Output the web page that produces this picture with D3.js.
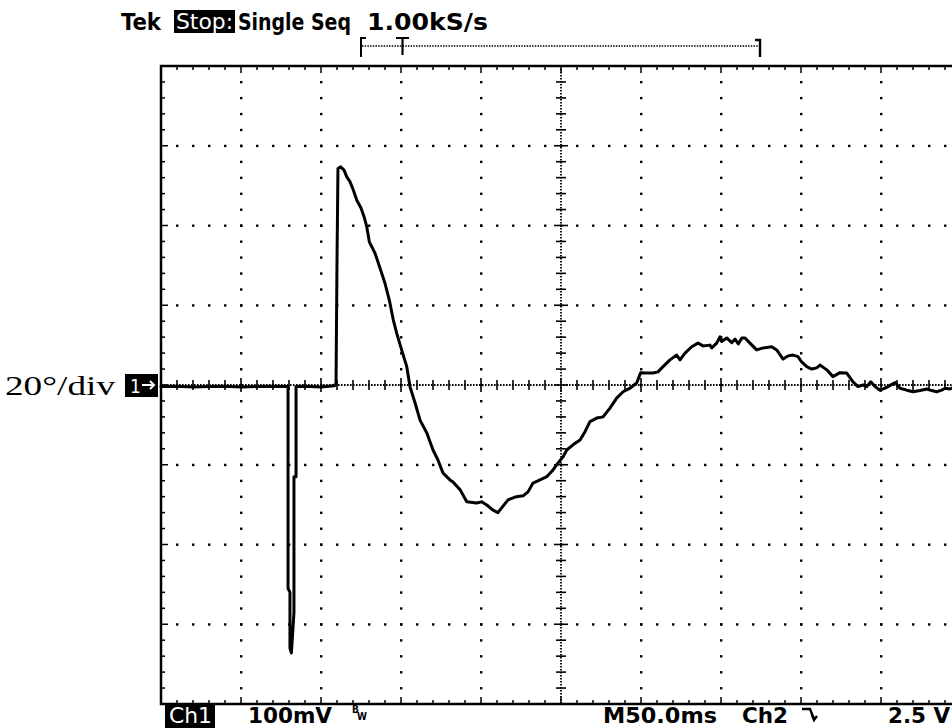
<!DOCTYPE html>
<html><head><meta charset="utf-8">
<script src="https://cdn.jsdelivr.net/npm/d3@7"></script>
<style>body{margin:0;background:#fff}svg{display:block}</style>
</head><body>
<script>
// ---- data (time in ms, angle in degrees) ----
const timeMs = [0,10,20,30,40,50,60,70,79.4,79.4,80.6,80.6,81.5,83.1,83.1,84.4,84.4,90,100,108.5,109.4,110,110.6,
112.3,114.4,116.1,118.1,120.2,122.3,125,126.9,128.6,130.2,133.8,136.9,140,142.7,145.2,147.3,150.4,153.6,155.6,158.8,161.9,166.1,170,173.1,176.3,180.6,182.5,187,191.1,197.3,200.4,203.6,207.5,210.6,212.9,216.9,221.3,226.3,229.4,232.5,236.9,241.1,245,248.1,251.3,253.6,257.5,261.9,265,268.1,272.3,276.3,280.6,284.8,288.8,293.1,297.3,299.8,303.6,307.5,310.6,313.8,318.1,322.3,324.4,327.5,331.7,335.6,338.8,343.1,344.2,347.3,349.4,350.4,353.6,356.7,358.8,360.8,363,365,368.1,372.3,376.4,381.7,384.8,388.8,391.9,395,398.1,400.4,403.6,406.7,409.8,411.9,416.1,420,424.4,428.6,432.5,435.6,438.8,441.1,443.6,446.3,449.4,452.5,454.4,458.8,461.9,466.1,470,474.4,478.6,481.7,484.8,487.9,490,493.1,496.9,500];
const angleDeg = [-0.4,-0.3,-0.5,-0.4,-0.3,-0.5,-0.4,-0.3,-0.4,-51,-52,-66,-67.2,-57,-23,-23,-0.4,-0.3,-0.5,-0.2,0.5,30.8,54.3,
54.7,53.9,52.2,51.0,48.9,46.4,44.4,42.2,39.7,35.9,33.0,29.3,25.5,21.3,16.3,13.0,8.8,4.6,-0.4,-4.5,-8.8,-12.0,-16.3,-18.8,-22.1,-23.8,-24.3,-26.3,-29.3,-29.6,-29.3,-30.1,-31.4,-32.0,-30.8,-28.8,-28.1,-27.8,-26.8,-24.6,-23.8,-23.0,-21.3,-19.6,-18.0,-16.3,-15.0,-13.8,-11.7,-9.2,-8.3,-8.0,-5.8,-3.3,-1.7,-0.8,0.5,3.1,3.0,3.0,3.3,4.6,6.3,7.5,6.3,8.0,9.6,10.5,9.8,10.0,9.3,10.5,12.1,10.9,11.8,10.6,11.5,10.3,11.8,11.8,10.5,8.8,9.3,9.6,8.8,6.5,7.3,7.5,7.1,5.8,4.6,4.0,4.3,5.0,3.8,2.1,3.1,3.0,0.8,-0.4,0,-0.4,0.8,-0.4,-1.3,-0.8,-0.4,0.6,-0.8,-1.3,-1.7,-1.4,-1.0,-1.4,-1.7,-1.3,-0.8,-1.0,-0.3,-0.5];
const xTickMs = d3.range(0, 501, 50);      // 50 ms / div
const yTickDeg = d3.range(-80, 81, 20);    // 20 deg / div
const headerLabels = ["Tek", "Stop:", "Single Seq", "1.00kS/s"];
const footerLabels = ["Ch1", "100mV", "M50.0ms", "Ch2", "2.5 V"];
const scaleLabel = "20°/div";

// ---- layout ----
const W = 952, H = 728;
const svg = d3.select("body").append("svg").attr("width", W).attr("height", H);
const x = d3.scaleLinear().domain([0, 500]).range([161, 961]);
const y = d3.scaleLinear().domain([-80, 80]).range([704, 66]);
const g = svg.append("g");

const xMinor = d3.range(0, 501, 10);
const yMinor = d3.range(-80, 81, 4);

// dotted major gridlines
xTickMs.filter(t => t > 0 && t < 500 && t !== 250).forEach(t => {
  g.selectAll(null).data(yMinor.filter(d => d > -80 && d < 80)).enter().append("rect")
    .attr("x", x(t) - 1).attr("y", d => y(d) - 1).attr("width", 2.4).attr("height", 2.4).attr("fill", "#000");
});
yTickDeg.filter(d => d > -80 && d < 80 && d !== 0).forEach(d => {
  g.selectAll(null).data(xMinor.filter(t => t > 0)).enter().append("rect")
    .attr("x", t => x(t) - 1).attr("y", y(d) - 1).attr("width", 2.4).attr("height", 2.4).attr("fill", "#000");
});

// center axes: dense dotted + cross ticks
g.append("line").attr("x1", x(0)).attr("x2", x(500)).attr("y1", y(0)).attr("y2", y(0))
  .attr("stroke", "#000").attr("stroke-width", 1.8).attr("stroke-dasharray", "1.6 1.4");
g.append("line").attr("x1", x(250)).attr("x2", x(250)).attr("y1", y(80)).attr("y2", y(-80))
  .attr("stroke", "#000").attr("stroke-width", 1.8).attr("stroke-dasharray", "1.6 1.4");
g.selectAll(null).data(xMinor.filter(t => t > 0 && t < 500)).enter().append("line")
  .attr("x1", t => x(t)).attr("x2", t => x(t))
  .attr("y1", t => y(0) - (t % 50 === 0 ? 7 : 5)).attr("y2", t => y(0) + (t % 50 === 0 ? 7 : 5))
  .attr("stroke", "#000").attr("stroke-width", 1.6);
g.selectAll(null).data(yMinor.filter(d => d > -80 && d < 80)).enter().append("line")
  .attr("y1", d => y(d)).attr("y2", d => y(d))
  .attr("x1", d => x(250) - (d % 20 === 0 ? 7 : 5)).attr("x2", d => x(250) + (d % 20 === 0 ? 7 : 5))
  .attr("stroke", "#000").attr("stroke-width", 1.6);

// frame edge ticks
g.selectAll(null).data(xMinor).enter().append("line")
  .attr("x1", t => x(t)).attr("x2", t => x(t))
  .attr("y1", y(80)).attr("y2", t => y(80) + (t % 50 === 0 ? 7 : 4))
  .attr("stroke", "#000").attr("stroke-width", 1.5);
g.selectAll(null).data(xMinor).enter().append("line")
  .attr("x1", t => x(t)).attr("x2", t => x(t))
  .attr("y1", y(-80)).attr("y2", t => y(-80) - (t % 50 === 0 ? 7 : 4))
  .attr("stroke", "#000").attr("stroke-width", 1.5);
g.selectAll(null).data(yMinor).enter().append("line")
  .attr("y1", d => y(d)).attr("y2", d => y(d))
  .attr("x1", x(0)).attr("x2", d => x(0) + (d % 20 === 0 ? 7 : 4))
  .attr("stroke", "#000").attr("stroke-width", 1.5);

// frame
g.append("path")
  .attr("d", `M${x(500)},${y(80)}H${x(0)}V${y(-80)}H${x(500)}`)
  .attr("fill", "none").attr("stroke", "#000").attr("stroke-width", 2.5);

// trace
const line = d3.line().x((d, i) => x(timeMs[i])).y(d => y(d));
g.append("path").datum(angleDeg).attr("d", line)
  .attr("fill", "none").attr("stroke", "#000").attr("stroke-width", 3)
  .attr("stroke-linejoin", "round").attr("stroke-linecap", "round");

// ---- texts ----
const tekFont = "'DejaVu Sans Condensed', 'DejaVu Sans', sans-serif";
function txt(s, x0, x1, yb, opts = {}) {
  return svg.append("text").text(s).attr("x", x0).attr("y", yb)
    .attr("font-family", opts.family || tekFont).attr("font-weight", opts.weight || "bold")
    .attr("font-size", opts.size || 23).attr("fill", opts.fill || "#000")
    .attr("textLength", x1 - x0).attr("lengthAdjust", "spacingAndGlyphs");
}
// header
txt(headerLabels[0], 121, 161, 30);
svg.append("rect").attr("x", 174).attr("y", 10).attr("width", 61).attr("height", 23).attr("fill", "#000");
txt(headerLabels[1], 176, 233, 29, {fill: "#fff", weight: "normal", size: 21});
txt(headerLabels[2], 238, 351, 30);
txt(headerLabels[3], 367, 488, 30);

// record/trigger bracket
svg.append("line").attr("x1", 362).attr("x2", 759).attr("y1", 46).attr("y2", 46)
  .attr("stroke", "#000").attr("stroke-width", 1.3).attr("stroke-dasharray", "1.5 1.2");
svg.append("path").attr("d", "M366,38H361V57").attr("fill", "none").attr("stroke", "#000").attr("stroke-width", 2);
svg.append("path").attr("d", "M755,40H760V57").attr("fill", "none").attr("stroke", "#000").attr("stroke-width", 2.4);
svg.append("path").attr("d", "M396,38H409M402.5,38V55").attr("fill", "none").attr("stroke", "#000").attr("stroke-width", 2.2);

// left scale label + ch1 marker
svg.append("text").text(scaleLabel).attr("x", 5).attr("y", y(0) + 10)
  .attr("font-family", "'Liberation Serif', 'DejaVu Serif', serif").attr("font-size", 28)
  .attr("textLength", 110).attr("lengthAdjust", "spacingAndGlyphs");
svg.append("rect").attr("x", 125).attr("y", y(0) - 11).attr("width", 33).attr("height", 23).attr("fill", "#000");
svg.append("text").text("1").attr("x", 130).attr("y", y(0) + 8).attr("fill", "#fff")
  .attr("font-family", tekFont).attr("font-size", 19);
svg.append("path").attr("d", `M142,${y(0)}H154M150,${y(0) - 4}L154,${y(0)}L150,${y(0) + 4}`)
  .attr("fill", "none").attr("stroke", "#fff").attr("stroke-width", 2);

// footer
svg.append("rect").attr("x", 165).attr("y", 705).attr("width", 50).attr("height", 23).attr("fill", "#000");
txt(footerLabels[0], 169, 212, 723, {fill: "#fff", weight: "normal", size: 22});
txt(footerLabels[1], 248, 332, 723, {size: 22});
svg.append("text").text("B").attr("x", 352).attr("y", 713).attr("font-family", tekFont).attr("font-size", 10).attr("font-weight", "bold");
svg.append("text").text("W").attr("x", 357).attr("y", 720).attr("font-family", tekFont).attr("font-size", 10).attr("font-weight", "bold");
txt(footerLabels[2], 603, 717, 723, {size: 22});
txt(footerLabels[3], 742, 788, 723, {size: 22});
svg.append("path").attr("d", "M802,709H810L814,719M812,715L814,720L817,716")
  .attr("fill", "none").attr("stroke", "#000").attr("stroke-width", 2.4);
txt(footerLabels[4], 888, 950, 723, {size: 22});
</script>
</body></html>
